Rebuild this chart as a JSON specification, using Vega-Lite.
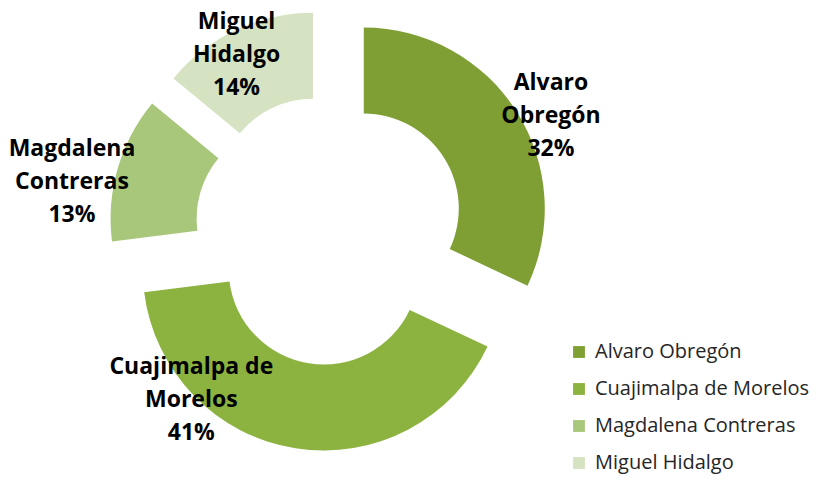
{
  "$schema": "https://vega.github.io/schema/vega-lite/v6.json",
  "width": 819,
  "height": 488,
  "padding": 0,
  "autosize": {"type": "none"},
  "background": "white",
  "config": {"view": {"stroke": null}},
  "data": {
    "values": [
      {"name": "Alvaro Obregón", "short": "Alvaro\nObregón", "pct": 32},
      {"name": "Cuajimalpa de Morelos", "short": "Cuajimalpa de\nMorelos", "pct": 41},
      {"name": "Magdalena Contreras", "short": "Magdalena\nContreras", "pct": 13},
      {"name": "Miguel Hidalgo", "short": "Miguel\nHidalgo", "pct": 14}
    ]
  },
  "transform": [{"calculate": "datum.short + '\\n' + datum.pct + '%'", "as": "label"}],
  "encoding": {
    "theta": {"field": "pct", "type": "quantitative", "stack": true},
    "color": {
      "field": "name",
      "type": "nominal",
      "scale": {
        "domain": ["Alvaro Obregón", "Cuajimalpa de Morelos", "Magdalena Contreras", "Miguel Hidalgo"],
        "range": ["#7f9f35", "#8cb240", "#a8c77a", "#d6e3c2"]
      },
      "legend": {
        "title": null,
        "orient": "none",
        "legendX": 569,
        "legendY": 342,
        "symbolType": "square",
        "symbolSize": 140,
        "symbolStrokeWidth": 0,
        "labelFont": "Open Sans",
        "labelFontSize": 20,
        "labelColor": "#262626",
        "labelOffset": 6,
        "rowPadding": 17,
        "labelLimit": 300
      }
    }
  },
  "layer": [
    {
      "mark": {
        "type": "arc",
        "innerRadius": 95,
        "outerRadius": 181,
        "x": {"expr": "330 + 40*sin((scale('theta', datum.pct_start) + scale('theta', datum.pct_end))/2)"},
        "y": {"expr": "230 - 40*cos((scale('theta', datum.pct_start) + scale('theta', datum.pct_end))/2)"}
      }
    },
    {
      "mark": {
        "type": "text",
        "radius": {"expr": "242 + 25*abs(sin((scale('theta', datum.pct_start) + scale('theta', datum.pct_end))/2)) - 60*pow(max(0, cos((scale('theta', datum.pct_start) + scale('theta', datum.pct_end))/2)), 3) - 36*pow(max(0, -cos((scale('theta', datum.pct_start) + scale('theta', datum.pct_end))/2)), 3)"},
        "thetaOffset": {"expr": "0.06*sin((scale('theta', datum.pct_start) + scale('theta', datum.pct_end))/2) + 0.59*pow(max(0, -cos((scale('theta', datum.pct_start) + scale('theta', datum.pct_end))/2)), 3)"},
        "x": 330,
        "y": 230,
        "dy": -22,
        "font": "Open Sans",
        "fontSize": 23,
        "fontWeight": "bold",
        "lineBreak": "\n",
        "lineHeight": 33,
        "align": "center",
        "baseline": "middle"
      },
      "encoding": {
        "text": {"field": "label"},
        "detail": {"field": "name"},
        "color": {"value": "black"}
      }
    }
  ]
}
